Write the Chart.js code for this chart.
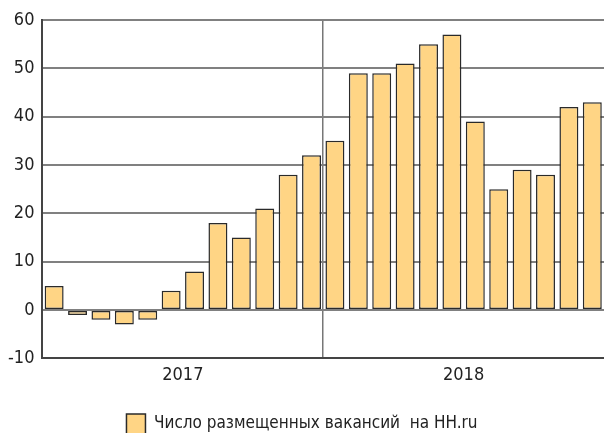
<!DOCTYPE html>
<html>
<head>
<meta charset="utf-8">
<script src="https://cdn.jsdelivr.net/npm/chart.js@4/dist/chart.umd.min.js"></script>
<style>
  html, body { margin: 0; padding: 0; background: #fff; }
  #wrap { width: 604px; height: 433px; }
</style>
</head>
<body>
<div id="wrap"><canvas id="myChart"></canvas></div>
<script>
const months = ['01.17', '02.17', '03.17', '04.17', '05.17', '06.17', '07.17', '08.17', '09.17', '10.17', '11.17', '12.17',
	'01.18', '02.18', '03.18', '04.18', '05.18', '06.18', '07.18', '08.18', '09.18', '10.18', '11.18', '12.18']
const years = ['2017', '2018']
const vacancies = [5, -1, -2, -3, -2, 4, 8, 18, 15, 21, 28, 32,
	35, 49, 49, 51, 55, 57, 39, 25, 29, 28, 42, 43]
const seriesName = 'Число размещенных вакансий  на HH.ru'

const font = "'Liberation Sans Narrow', 'DejaVu Sans Condensed', 'Arial Narrow', sans-serif"
Chart.defaults.font.family = font
Chart.defaults.color = '#222'

const chartConfig = {
	type: 'bar',
	data: {
		labels: months,
		datasets: [
			{
				label: seriesName,
				data: vacancies,
				backgroundColor: '#FFD585',
				borderColor: '#2a2a2a',
				borderWidth: 1.5,
				borderSkipped: false,
				categoryPercentage: 0.81,
				barPercentage: 1,
			},
		],
	},
	options: {
		responsive: true,
		maintainAspectRatio: false,
		animation: false,
		layout: { padding: { top: 20, right: 0, left: 0, bottom: -11 } },
		plugins: {
			legend: {
				position: 'bottom',
				labels: {
					font: { size: 17 },
					boxWidth: 19,
					boxHeight: 20,
					padding: 22,
					color: '#222',
				},
			},
			tooltip: { enabled: false },
		},
		scales: {
			x: {
				display: false,
			},
			x2: {
				type: 'category',
				labels: years,
				offset: true,
				position: 'bottom',
				grid: {
					offset: true,
					drawTicks: false,
					color: (ctx) => (ctx.index === 1 ? '#777' : 'rgba(0,0,0,0)'),
					lineWidth: 1.5,
				},
				border: { color: '#444', width: 2 },
				ticks: { font: { size: 18 }, padding: 6, color: '#222' },
			},
			y: {
				min: -10,
				max: 60,
				ticks: { stepSize: 10, font: { size: 18 }, padding: 8, color: '#222' },
				grid: { color: '#808080', lineWidth: 2, drawTicks: false },
				border: { color: '#444', width: 2 },
			},
		},
	},
}

window.onload = function () {
	const ctx = document.getElementById('myChart').getContext('2d')
	new Chart(ctx, chartConfig)
}
</script>
</body>
</html>
